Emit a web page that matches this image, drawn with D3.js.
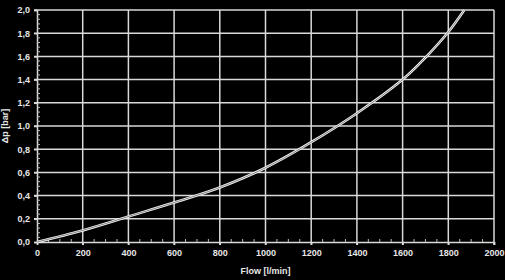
<!DOCTYPE html>
<html>
<head>
<meta charset="utf-8">
<script src="https://cdn.jsdelivr.net/npm/d3@7"></script>
<style>
  body { margin: 0; background: #000; }
  svg { display: block; }
  text { font-family: "Liberation Sans", Arial, sans-serif; font-weight: bold; fill: #e6e6e6; }
</style>
</head>
<body>
<script>
var width = 505;
var height = 280;
var margin = {top: 10, right: 11, bottom: 38, left: 37};

// flow [l/min] and pressure drop [bar]
var flow = [0, 200, 400, 600, 800, 1000, 1200, 1400, 1600, 1700, 1800, 1870];
var dp = [0, 0.10, 0.22, 0.34, 0.47, 0.64, 0.86, 1.11, 1.40, 1.59, 1.81, 2.0];

var xTicks = [0, 200, 400, 600, 800, 1000, 1200, 1400, 1600, 1800, 2000];
var yTicks = [0, 0.2, 0.4, 0.6, 0.8, 1.0, 1.2, 1.4, 1.6, 1.8, 2.0];

var x = d3.scaleLinear().domain([0, 2000]).range([margin.left, width - margin.right]);
var y = d3.scaleLinear().domain([0, 2]).range([height - margin.bottom, margin.top]);

var svg = d3.select("body").append("svg")
    .attr("width", width)
    .attr("height", height);

svg.append("rect").attr("width", width).attr("height", height).attr("fill", "#000");

var fmt = function(d){ return d3.format(".1f")(d).replace(".", ","); };

//grid lines
svg.append("g")
    .selectAll("line")
    .data(xTicks.slice(1))
    .join("line")
    .attr("x1", function(d){ return x(d); })
    .attr("x2", function(d){ return x(d); })
    .attr("y1", y(2))
    .attr("y2", y(0) + 3)
    .attr("stroke", "#d9d9d9")
    .attr("stroke-width", 1.5);

svg.append("g")
    .selectAll("line")
    .data(yTicks.slice(1))
    .join("line")
    .attr("x1", x(0) - 3)
    .attr("x2", x(2000))
    .attr("y1", function(d){ return y(d); })
    .attr("y2", function(d){ return y(d); })
    .attr("stroke", "#d9d9d9")
    .attr("stroke-width", 1.5);

//axes
var xAxis = d3.axisBottom(x).tickValues(xTicks).tickSize(3).tickPadding(5).tickFormat(d3.format("d"));
var yAxis = d3.axisLeft(y).tickValues(yTicks).tickSize(3).tickPadding(4).tickFormat(fmt);

var gx = svg.append("g")
    .attr("transform", "translate(0," + y(0) + ")")
    .call(xAxis);
var gy = svg.append("g")
    .attr("transform", "translate(" + x(0) + ",0)")
    .call(yAxis);

[gx, gy].forEach(function(g){
    g.select(".domain").attr("stroke", "#d9d9d9").attr("stroke-width", 1.5);
    g.selectAll(".tick line").attr("stroke", "#d9d9d9").attr("stroke-width", 1.5);
    g.selectAll("text").attr("font-size", 9).attr("fill", "#e6e6e6")
        .attr("font-family", "'Liberation Sans', Arial, sans-serif").attr("font-weight", "bold");
});

//minor ticks, drawn inside the plot
var xMinor = d3.range(50, 2000, 50).filter(function(d){ return d % 200 !== 0; });
var yMinor = d3.range(1, 50).map(function(i){ return i * 0.04; }).filter(function(d){ return Math.abs(d / 0.2 - Math.round(d / 0.2)) > 0.01; });

svg.append("g")
    .selectAll("line")
    .data(xMinor)
    .join("line")
    .attr("x1", function(d){ return x(d); })
    .attr("x2", function(d){ return x(d); })
    .attr("y1", y(0))
    .attr("y2", y(0) - 3)
    .attr("stroke", "#bbb")
    .attr("stroke-width", 1);

svg.append("g")
    .selectAll("line")
    .data(yMinor)
    .join("line")
    .attr("x1", x(0))
    .attr("x2", x(0) + 3)
    .attr("y1", function(d){ return y(d); })
    .attr("y2", function(d){ return y(d); })
    .attr("stroke", "#bbb")
    .attr("stroke-width", 1);

//curve
var points = flow.map(function(f, i){ return [f, dp[i]]; });
var line = d3.line()
    .x(function(d){ return x(d[0]); })
    .y(function(d){ return y(d[1]); })
    .curve(d3.curveCatmullRom.alpha(0.5));

svg.append("path")
    .attr("d", line(points))
    .attr("fill", "none")
    .attr("stroke", "#f2f2f2")
    .attr("stroke-width", 2.6);
svg.append("path")
    .attr("d", line(points))
    .attr("fill", "none")
    .attr("stroke", "#555")
    .attr("stroke-width", 0.7);

//axis titles
svg.append("text")
    .attr("x", (x(0) + x(2000)) / 2)
    .attr("y", 274)
    .attr("text-anchor", "middle")
    .attr("font-size", 9)
    .text("Flow [l/min]");

svg.append("text")
    .attr("transform", "translate(8," + y(1) + ") rotate(-90)")
    .attr("text-anchor", "middle")
    .attr("font-size", 9)
    .text("Δp [bar]");
</script>
</body>
</html>
